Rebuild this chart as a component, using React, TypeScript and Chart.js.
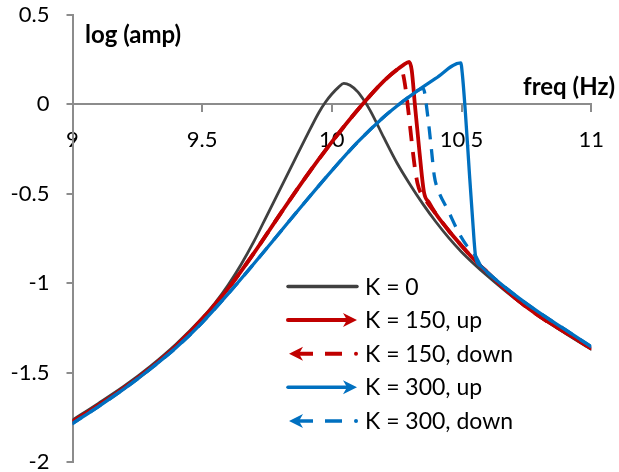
import React, { useEffect, useRef } from 'react';
import { Chart, registerables } from 'chart.js';

Chart.register(...registerables);

// ---------- data ----------
const X_TICKS = [9, 9.5, 10, 10.5, 11];
const Y_TICKS = [0.5, 0, -0.5, -1, -1.5, -2];

const SERIES_LABELS = ['K = 0', 'K = 150, up', 'K = 150, down', 'K = 300, up', 'K = 300, down'];

const K0_X = [9.0, 9.1, 9.2, 9.3, 9.4, 9.5, 9.55, 9.6, 9.65, 9.7, 9.75, 9.8, 9.85, 9.9, 9.95, 9.975, 10.0, 10.025, 10.046, 10.07, 10.1, 10.125, 10.15, 10.2, 10.25, 10.3, 10.35, 10.4, 10.45, 10.5, 10.55, 10.6, 10.7, 10.8, 10.9, 11.0];
const K0_Y = [-1.765, -1.672, -1.575, -1.465, -1.34, -1.195, -1.11, -1.01, -0.895, -0.765, -0.62, -0.475, -0.33, -0.185, -0.045, 0.012, 0.058, 0.095, 0.118, 0.107, 0.07, 0.02, -0.04, -0.185, -0.325, -0.445, -0.555, -0.655, -0.745, -0.825, -0.895, -0.96, -1.08, -1.185, -1.28, -1.37];

const K150_UP_X = [9.0, 9.1, 9.2, 9.3, 9.4, 9.5, 9.6, 9.7, 9.8, 9.9, 10.0, 10.1, 10.2, 10.25, 10.275, 10.298, 10.308, 10.32, 10.338, 10.355, 10.375, 10.4, 10.45, 10.5, 10.55, 10.6, 10.7, 10.8, 10.9, 11.0];
const K150_UP_Y = [-1.775, -1.683, -1.585, -1.475, -1.35, -1.2, -1.03, -0.83, -0.615, -0.405, -0.21, -0.03, 0.13, 0.193, 0.22, 0.238, 0.19, 0.0, -0.27, -0.49, -0.55, -0.61, -0.705, -0.79, -0.87, -0.94, -1.075, -1.185, -1.275, -1.365];

const K150_DOWN_X = [11.0, 10.9, 10.8, 10.7, 10.6, 10.55, 10.5, 10.45, 10.4, 10.36, 10.33, 10.264, 10.25, 10.2, 10.1, 10.0, 9.9, 9.8, 9.7, 9.6, 9.5, 9.4, 9.3, 9.2, 9.1, 9.0];
const K150_DOWN_Y = [-1.365, -1.275, -1.185, -1.075, -0.94, -0.87, -0.79, -0.705, -0.61, -0.53, -0.44, 0.205, 0.193, 0.13, -0.03, -0.21, -0.405, -0.615, -0.83, -1.03, -1.2, -1.35, -1.475, -1.585, -1.683, -1.775];

const K300_UP_X = [9.0, 9.1, 9.2, 9.3, 9.4, 9.5, 9.6, 9.7, 9.8, 9.9, 10.0, 10.1, 10.2, 10.25, 10.3, 10.4, 10.497, 10.503, 10.515, 10.53, 10.542, 10.555, 10.575, 10.6, 10.7, 10.8, 10.9, 11.0];
const K300_UP_Y = [-1.785, -1.69, -1.59, -1.48, -1.36, -1.22, -1.06, -0.89, -0.715, -0.54, -0.37, -0.21, -0.07, -0.01, 0.045, 0.145, 0.232, 0.17, -0.05, -0.38, -0.63, -0.86, -0.905, -0.94, -1.06, -1.165, -1.26, -1.355];

const K300_DOWN_X = [11.0, 10.9, 10.8, 10.7, 10.6, 10.575, 10.555, 10.52, 10.49, 10.447, 10.41, 10.395, 10.383, 10.37, 10.352, 10.3, 10.25, 10.2, 10.1, 10.0, 9.9, 9.8, 9.7, 9.6, 9.5, 9.4, 9.3, 9.2, 9.1, 9.0];
const K300_DOWN_Y = [-1.355, -1.26, -1.165, -1.06, -0.94, -0.905, -0.85, -0.79, -0.72, -0.59, -0.48, -0.4, -0.24, -0.07, 0.09, 0.045, -0.01, -0.07, -0.21, -0.37, -0.54, -0.715, -0.89, -1.06, -1.22, -1.36, -1.48, -1.59, -1.69, -1.785];

// ---------- styles ----------
const FONT = 'Lato';
const AXIS_COLOR = '#8c8c8c';
const BLACK = '#404040';
const RED = '#C00000';
const BLUE = '#0070C0';

const pts = (xs: number[], ys: number[]) => xs.map((x, i) => ({ x, y: ys[i] }));

function drawArrowHead(ctx: CanvasRenderingContext2D, tipX: number, y: number, dir: number, color: string) {
  ctx.save();
  ctx.fillStyle = color;
  ctx.beginPath();
  ctx.moveTo(tipX, y);
  ctx.lineTo(tipX - dir * 14, y - 7);
  ctx.lineTo(tipX - dir * 10, y);
  ctx.lineTo(tipX - dir * 14, y + 7);
  ctx.closePath();
  ctx.fill();
  ctx.restore();
}

const overlayPlugin = {
  id: 'overlay',
  afterDraw(chart: any) {
    const ctx: CanvasRenderingContext2D = chart.ctx;
    ctx.save();
    // axis titles
    ctx.fillStyle = '#000';
    ctx.font = `bold 24px ${FONT}`;
    ctx.textBaseline = 'alphabetic';
    ctx.textAlign = 'left';
    ctx.fillText('log (amp)', 85, 43);
    ctx.textAlign = 'right';
    ctx.fillText('freq (Hz)', 615, 95);

    // legend
    const rows = [286.5, 320, 353.7, 387.3, 421];
    const x0 = 288;
    const x1 = 357;
    const colors = [BLACK, RED, RED, BLUE, BLUE];
    const widths = [3.5, 4, 4, 3.5, 3.5];
    rows.forEach((ry, i) => {
      ctx.strokeStyle = colors[i];
      ctx.lineWidth = widths[i];
      if (i === 0) {
        ctx.lineCap = 'round';
        ctx.beginPath();
        ctx.moveTo(x0, ry);
        ctx.lineTo(x1, ry);
        ctx.stroke();
      } else if (i === 1 || i === 3) {
        ctx.lineCap = 'round';
        ctx.beginPath();
        ctx.moveTo(x0, ry);
        ctx.lineTo(x1 - 10, ry);
        ctx.stroke();
        drawArrowHead(ctx, x1, ry, 1, colors[i]);
      } else {
        ctx.lineCap = 'butt';
        drawArrowHead(ctx, x0 + 1, ry, -1, colors[i]);
        ctx.beginPath();
        ctx.moveTo(x0 + 10, ry);
        ctx.lineTo(x0 + 25, ry);
        ctx.moveTo(x0 + 37, ry);
        ctx.lineTo(x0 + 54, ry);
        ctx.stroke();
        ctx.fillStyle = colors[i];
        ctx.beginPath();
        ctx.arc(x1 - 1, ry, 2, 0, Math.PI * 2);
        ctx.fill();
      }
      ctx.fillStyle = '#000';
      ctx.font = `23px ${FONT}`;
      ctx.textAlign = 'left';
      ctx.textBaseline = 'alphabetic';
      ctx.fillText(SERIES_LABELS[i], 365, ry + 8);
    });
    ctx.restore();
  },
};

export default function App() {
  const ref = useRef<HTMLCanvasElement>(null);
  useEffect(() => {
    const common = { showLine: true, pointRadius: 0, pointHoverRadius: 0, cubicInterpolationMode: 'monotone' as const, borderJoinStyle: 'round' as const };
    const chart = new Chart(ref.current!, {
      type: 'scatter',
      data: {
        datasets: [
          { ...common, label: SERIES_LABELS[0], data: pts(K0_X, K0_Y), borderColor: BLACK, borderWidth: 2.8, borderCapStyle: 'round', order: 5 },
          { ...common, label: SERIES_LABELS[1], data: pts(K150_UP_X, K150_UP_Y), borderColor: RED, borderWidth: 3.8, borderCapStyle: 'round', order: 4 },
          { ...common, label: SERIES_LABELS[2], data: pts(K150_DOWN_X, K150_DOWN_Y), borderColor: RED, borderWidth: 3.8, borderDash: [15, 11], borderCapStyle: 'butt', order: 3 },
          { ...common, label: SERIES_LABELS[3], data: pts(K300_UP_X, K300_UP_Y), borderColor: BLUE, borderWidth: 3.3, borderCapStyle: 'round', order: 2 },
          { ...common, label: SERIES_LABELS[4], data: pts(K300_DOWN_X, K300_DOWN_Y), borderColor: BLUE, borderWidth: 3.3, borderDash: [13, 10], borderCapStyle: 'butt', order: 1 },
        ] as any,
      },
      options: {
        animation: false,
        responsive: false,
        layout: { padding: { left: 0, top: 15, right: 22.3, bottom: 10 } },
        plugins: { legend: { display: false }, tooltip: { enabled: false } },
        events: [],
        scales: {
          x: {
            type: 'linear',
            min: 9,
            max: 11,
            position: { y: 0 } as any,
            afterBuildTicks: (s: any) => { s.ticks = X_TICKS.map((v) => ({ value: v })); },
            ticks: { font: { family: FONT, size: 22 }, color: '#000', padding: 15, maxRotation: 0, autoSkip: false, callback: (v: any) => String(v) },
            grid: { display: true, drawOnChartArea: false, drawTicks: true, tickLength: 7, color: AXIS_COLOR, lineWidth: 2 },
            border: { display: true, color: AXIS_COLOR, width: 2 },
          },
          y: {
            type: 'linear',
            min: -2,
            max: 0.5,
            position: 'left',
            afterBuildTicks: (s: any) => { s.ticks = Y_TICKS.map((v) => ({ value: v })); },
            afterFit: (s: any) => { s.width = 72.5; s.paddingTop = 0; s.paddingBottom = 0; },
            ticks: { font: { family: FONT, size: 22 }, color: '#000', padding: 17, callback: (v: any) => String(v) },
            grid: { display: true, drawOnChartArea: false, drawTicks: true, tickLength: 6, color: AXIS_COLOR, lineWidth: 2 },
            border: { display: true, color: AXIS_COLOR, width: 2 },
          },
        },
      } as any,
      plugins: [overlayPlugin],
    });
    return () => chart.destroy();
  }, []);
  return (
    <div style={{ position: 'fixed', left: 0, top: 0, width: 619, height: 472, background: '#fff' }}>
      <canvas ref={ref} width={619} height={472} />
    </div>
  );
}
